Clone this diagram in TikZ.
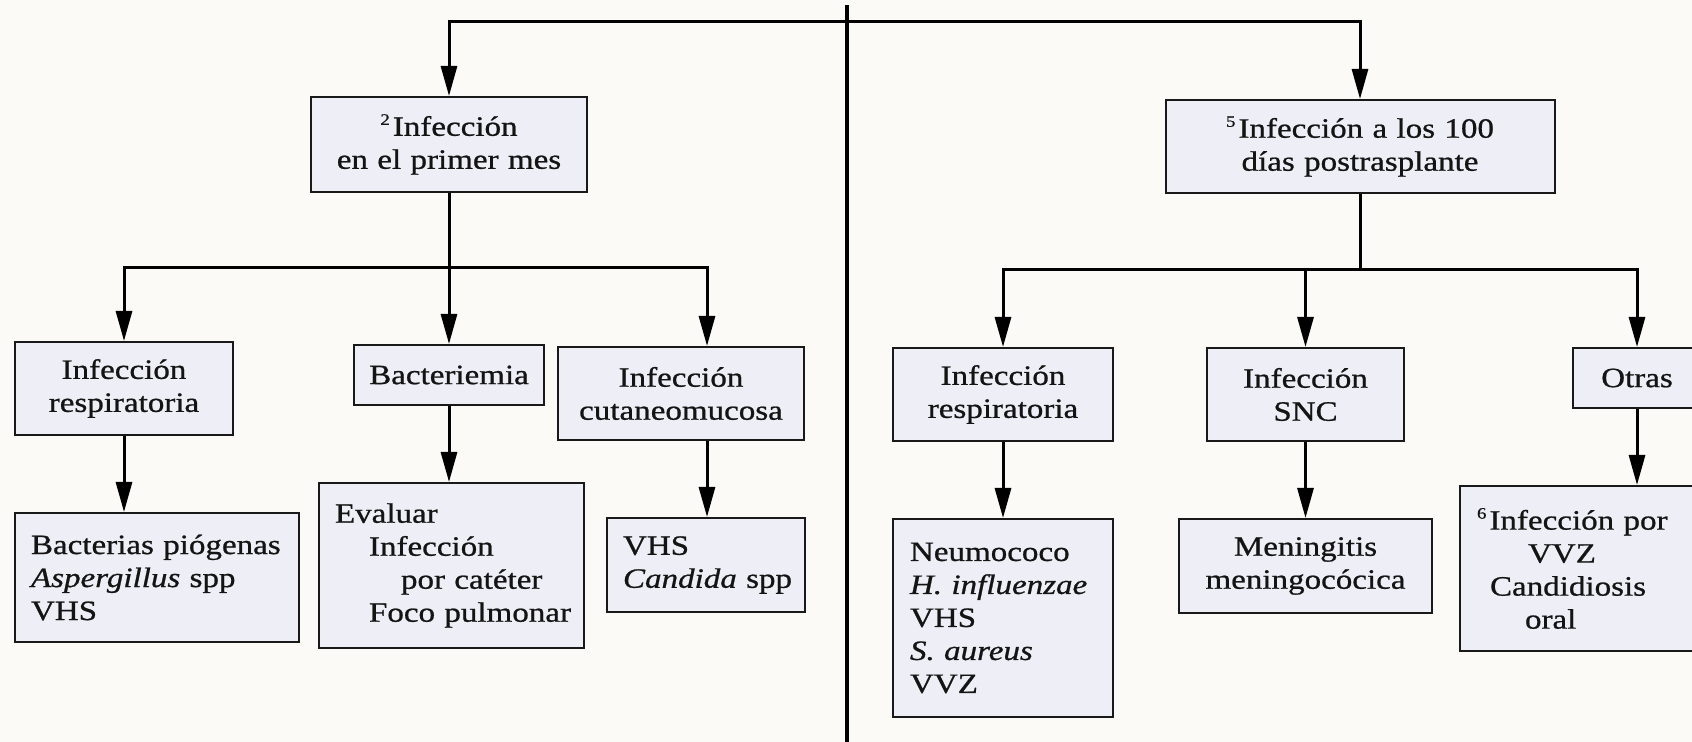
\documentclass[tikz,border=0pt]{standalone}
\usepackage{fontspec}
\setmainfont{Liberation Serif}[FakeStretch=1.18,FakeBold=0.8]
\usetikzlibrary{arrows.meta}
\definecolor{bg}{HTML}{FCFAF7}
\definecolor{boxfill}{HTML}{EEEEF6}
\newcommand{\supnum}[1]{\raisebox{0.85ex}{\fontsize{8}{8}\selectfont #1}\hspace{1.5pt}}
\begin{document}
\begin{tikzpicture}[x=0.5pt,y=-0.5pt,
  box/.style={draw=black!90, fill=boxfill, line width=1pt, inner xsep=0pt, inner ysep=0pt,
    font=\fontsize{14}{16.5}\selectfont, text=black!92},
  cbox/.style={box, align=center},
  lbox/.style={box, align=left},
  conn/.style={line width=1.5pt, draw=black},
  arr/.style={conn, -{Triangle[length=15pt,width=8pt]}}
]
\useasboundingbox (0,0) rectangle (1692,742);
\fill[bg] (0,0) rectangle (1692,742);

% level 1
\node[cbox, minimum width=138pt, minimum height=47.5pt, text width=130pt] (A) at (449,144.5)
  {\supnum{2}Infección\\en el primer mes};
\node[cbox, minimum width=194.5pt, minimum height=46.5pt, text width=186pt] (B) at (1360,146.5)
  {\supnum{5}Infección a los 100\\días postrasplante};

% level 2 left
\node[cbox, minimum width=109pt, minimum height=46.5pt, text width=100pt] (L1) at (124,388.5)
  {Infección\\respiratoria};
\node[cbox, minimum width=95pt, minimum height=30pt, text width=88pt] (L2) at (449,375)
  {Bacteriemia};
\node[cbox, minimum width=123pt, minimum height=46.5pt, text width=116pt] (L3) at (681,393.5)
  {Infección\\cutaneomucosa};

% level 3 left
\node[lbox, minimum width=142pt, minimum height=64.5pt, text width=126pt] (V1) at (157,577.5)
  {\mbox{Bacterias piógenas}\\\mbox{\textit{Aspergillus} spp}\\VHS};
\node[lbox, minimum width=132.5pt, minimum height=82.5pt, text width=116.5pt] (V2) at (451.5,565.5)
  {Evaluar\\\hspace*{17pt}Infección\\\hspace*{33pt}\mbox{por catéter}\\\hspace*{17pt}\mbox{Foco pulmonar}};
\node[lbox, minimum width=99pt, minimum height=47pt, text width=83pt] (V3) at (706,565)
  {VHS\\\mbox{\textit{Candida} spp}};

% level 2 right
\node[cbox, minimum width=110pt, minimum height=46.5pt, text width=102pt] (R1) at (1003,394.5)
  {Infección\\respiratoria};
\node[cbox, minimum width=98.5pt, minimum height=46.5pt, text width=90pt] (R2) at (1305.5,394.5)
  {Infección\\SNC};
\node[cbox, minimum width=64pt, minimum height=30pt, text width=58pt] (R3) at (1637,378)
  {Otras};

% level 3 right
\node[lbox, minimum width=110pt, minimum height=99pt, text width=93pt] (W1) at (1003,618)
  {Neumococo\\\mbox{\textit{H. influenzae}}\\VHS\\\mbox{\textit{S. aureus}}\\VVZ};
\node[cbox, minimum width=126.5pt, minimum height=47pt, text width=118pt] (W2) at (1305.5,566)
  {Meningitis\\meningocócica};
\node[lbox, minimum width=130pt, minimum height=82.5pt, text width=113pt] (W3) at (1590,568.5)
  {\mbox{\supnum{6}Infección por}\\\hspace*{25.5pt}VVZ\\\hspace*{6.5pt}Candidiosis\\\hspace*{24pt}oral};

% helper coordinates
\coordinate (dtop) at (847,5);
\coordinate (dbot) at (847,742);
\coordinate (top) at (847,22);
\coordinate (jl) at (449,268);
\coordinate (jr) at (1360,270);
\coordinate (ax3) at (707,0);

% connectors
\draw[conn, line width=1.9pt] (dtop) -- (dbot);
\draw[arr] (top) -| (A.north);
\draw[arr] (top) -| (B.north);
\draw[conn] (A.south) -- (jl);
\draw[arr] (jl) -| (L1.north);
\draw[arr] (jl) -- (L2.north);
\draw[arr] (jl) -| (L3.north -| ax3);
\draw[arr] (L1.south) -- (L1.south |- V1.north);
\draw[arr] (L2.south) -- (L2.south |- V2.north);
\draw[arr] (L3.south -| ax3) -- (V3.north -| ax3);
\draw[conn] (B.south) -- (jr);
\draw[arr] (jr) -| (R1.north);
\draw[arr] (jr) -| (R2.north);
\draw[arr] (jr) -| (R3.north);
\draw[arr] (R1.south) -- (R1.south |- W1.north);
\draw[arr] (R2.south) -- (R2.south |- W2.north);
\draw[arr] (R3.south) -- (R3.south |- W3.north);
\end{tikzpicture}
\end{document}
